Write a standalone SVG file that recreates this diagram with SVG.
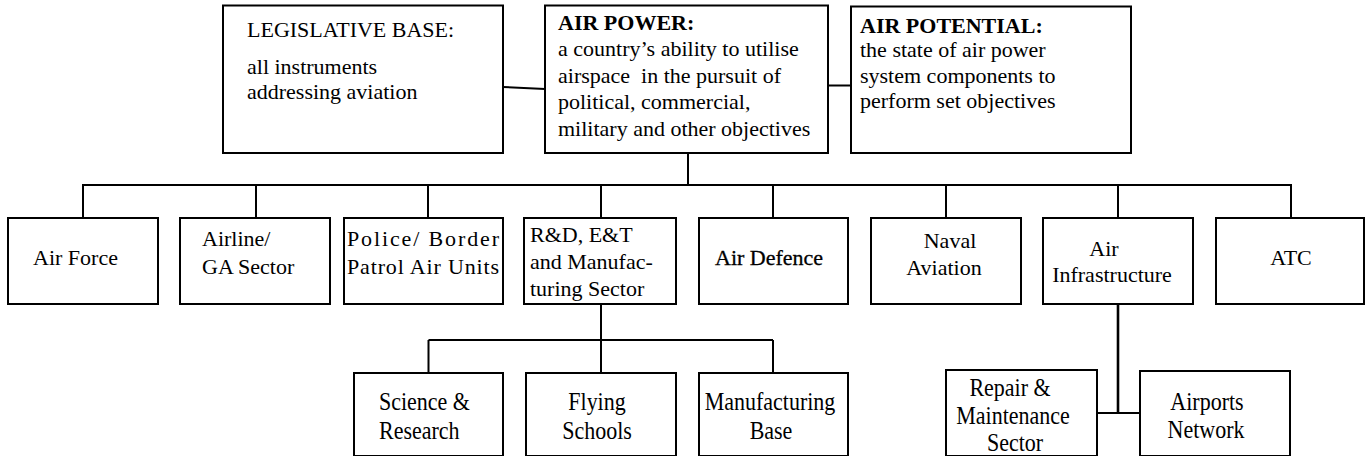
<svg xmlns="http://www.w3.org/2000/svg" width="1366" height="456" viewBox="0 0 1366 456">
  <style>
    .box { fill: #ffffff; stroke: #000000; stroke-width: 2; }
    .wire { fill: none; stroke: #000000; stroke-width: 2; }
    .thick { stroke-width: 2.6; }
    text { font-family: "Liberation Serif", "Times New Roman", serif; font-size: 22px; fill: #000000; }
    .head { font-weight: bold; }
    .mid { text-anchor: middle; }
    .pre { white-space: pre; }
  </style>

  <rect width="1366" height="456" fill="#ffffff"/>

  <!-- connectors -->
  <g id="connectors">
    <line class="wire" x1="503" y1="87" x2="545" y2="89"/>
    <line class="wire" x1="828" y1="85.5" x2="851" y2="85.5"/>
    <line class="wire" x1="688" y1="153" x2="688" y2="185"/>
    <line class="wire" x1="82" y1="185" x2="1292" y2="185"/>
    <path class="wire" d="M83 185V218 M256 185V218 M428 185V218 M601 185V218 M773 185V218 M946 185V218 M1118 185V218 M1291 185V218"/>
    <line class="wire" x1="601" y1="304" x2="601" y2="340"/>
    <line class="wire" x1="428.5" y1="340" x2="773" y2="340"/>
    <path class="wire" d="M428.5 340V373 M601 340V373 M773 340V373"/>
    <line class="wire thick" x1="1118" y1="304" x2="1118" y2="413"/>
    <line class="wire" x1="1097" y1="413" x2="1140" y2="413"/>
  </g>

  <!-- top row -->
  <g id="legislative-base">
    <rect class="box" x="223" y="5.5" width="280" height="147.5"/>
    <text x="247" y="37">LEGISLATIVE BASE:</text>
    <text x="247" y="74">all instruments</text>
    <text x="247" y="99">addressing aviation</text>
  </g>
  <g id="air-power">
    <rect class="box" x="545" y="5.5" width="283" height="147.5"/>
    <text class="head" x="558" y="30">AIR POWER:</text>
    <text x="558" y="56">a country’s ability to utilise</text>
    <text class="pre" x="558" y="82.5">airspace  in the pursuit of</text>
    <text x="558" y="109">political, commercial,</text>
    <text x="558" y="135.5">military and other objectives</text>
  </g>
  <g id="air-potential">
    <rect class="box" x="851" y="6.5" width="280" height="146.5"/>
    <text class="head" x="860" y="33">AIR POTENTIAL:</text>
    <text x="860" y="57">the state of air power</text>
    <text x="860" y="83">system components to</text>
    <text x="860" y="108">perform set objectives</text>
  </g>

  <!-- second row -->
  <g id="air-force">
    <rect class="box" x="8" y="218" width="150" height="86"/>
    <text x="33" y="265">Air Force</text>
  </g>
  <g id="airline-ga">
    <rect class="box" x="180" y="218" width="150" height="86"/>
    <text x="202" y="246">Airline/</text>
    <text x="202" y="274">GA Sector</text>
  </g>
  <g id="police-border">
    <rect class="box" x="344" y="218" width="159" height="86"/>
    <text x="347" y="246" textLength="152" lengthAdjust="spacing">Police/ Border</text>
    <text x="347" y="274" textLength="152" lengthAdjust="spacing">Patrol Air Units</text>
  </g>
  <g id="rd-et-manufacturing">
    <rect class="box" x="524" y="218" width="152" height="86"/>
    <text x="530" y="242">R&amp;D, E&amp;T</text>
    <text x="530" y="269">and Manufac-</text>
    <text x="530" y="295.5">turing Sector</text>
  </g>
  <g id="air-defence">
    <rect class="box" x="699" y="218" width="149" height="86"/>
    <text x="715" y="265" style="stroke:#000;stroke-width:0.3">Air Defence</text>
  </g>
  <g id="naval-aviation">
    <rect class="box" x="871" y="218" width="150" height="86"/>
    <text class="mid" x="950" y="248">Naval</text>
    <text class="mid" x="944" y="275">Aviation</text>
  </g>
  <g id="air-infrastructure">
    <rect class="box" x="1043" y="218" width="150" height="86"/>
    <text class="mid" x="1104" y="256">Air</text>
    <text class="mid" x="1112" y="282">Infrastructure</text>
  </g>
  <g id="atc">
    <rect class="box" x="1216" y="218" width="148" height="86"/>
    <text class="mid" x="1291" y="265">ATC</text>
  </g>

  <!-- third row -->
  <g id="science-research">
    <rect class="box" x="354" y="373" width="149" height="83"/>
    <text transform="translate(379 410) scale(1 1.1)">Science &amp;</text>
    <text transform="translate(379 439) scale(1 1.1)">Research</text>
  </g>
  <g id="flying-schools">
    <rect class="box" x="526" y="373" width="150" height="83"/>
    <text class="mid" transform="translate(597 410) scale(1 1.1)">Flying</text>
    <text class="mid" transform="translate(597 439) scale(1 1.1)">Schools</text>
  </g>
  <g id="manufacturing-base">
    <rect class="box" x="699" y="373" width="149" height="83"/>
    <text class="mid" transform="translate(770 410) scale(1 1.1)">Manufacturing</text>
    <text class="mid" transform="translate(771 439) scale(1 1.1)">Base</text>
  </g>
  <g id="repair-maintenance">
    <rect class="box" x="946" y="370" width="151" height="86"/>
    <text class="mid" transform="translate(1010 396) scale(1 1.1)">Repair &amp;</text>
    <text class="mid" transform="translate(1013 424) scale(1 1.1)">Maintenance</text>
    <text class="mid" transform="translate(1015 451) scale(1 1.1)">Sector</text>
  </g>
  <g id="airports-network">
    <rect class="box" x="1140" y="371" width="150" height="85"/>
    <text class="mid" transform="translate(1207 410) scale(1 1.1)">Airports</text>
    <text class="mid" transform="translate(1206 438) scale(1 1.1)">Network</text>
  </g>
</svg>
